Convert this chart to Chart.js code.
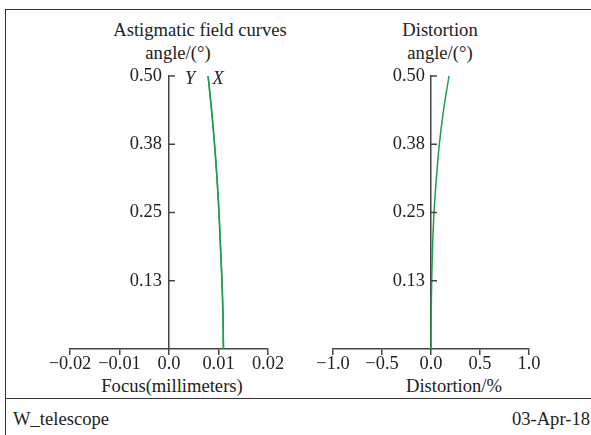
<!DOCTYPE html>
<html>
<head>
<meta charset="utf-8">
<script src="https://cdn.jsdelivr.net/npm/chart.js@4.4.0/dist/chart.umd.min.js"></script>
<style>
  body { margin: 0; width: 591px; height: 435px; background: #fff; position: relative; overflow: hidden;
         font-family: "Liberation Serif", serif; color: #222; }
  .t { position: absolute; font-size: 18.6px; line-height: 18px; white-space: nowrap; }
  .c { width: 300px; text-align: center; }
  #frame { position: absolute; left: 5px; top: 9px; width: 620px; height: 520px;
           border-left: 1.5px solid #333; border-top: 1.5px solid #333; }
  #sep { position: absolute; left: 5px; top: 398px; width: 620px; border-top: 1.5px solid #333; }
  canvas { position: absolute; top: 0; }
</style>
</head>
<body>
<div id="frame"></div>
<div id="sep"></div>

<div class="t c" style="left:50px; top:21px;">Astigmatic field curves</div>
<div class="t c" style="left:28px; top:44px;">angle/(°)</div>
<div class="t c" style="left:22px; top:377px;">Focus(millimeters)</div>

<div class="t c" style="left:290px; top:21px;">Distortion</div>
<div class="t c" style="left:290px; top:44px;">angle/(°)</div>
<div class="t c" style="left:304px; top:377px;">Distortion/%</div>

<div class="t" style="left:13px; top:410px;">W_telescope</div>
<div class="t" style="right:1px; top:410px;">03-Apr-18</div>

<canvas id="astig" width="300" height="400" style="left:0;"></canvas>
<canvas id="dist" width="291" height="400" style="left:300px;"></canvas>

<script>
// field angle (degrees) for each sample along the curves
const fieldAngle = [0, 0.0625, 0.125, 0.1875, 0.25, 0.3125, 0.375, 0.4375, 0.5];
// focus shift, millimeters (X = sagittal, Y = tangential)
const focusX = [0.0110, 0.0109, 0.0107, 0.0104, 0.0101, 0.0097, 0.0092, 0.0086, 0.0079];
const focusY = [0.0110, 0.0109, 0.0107, 0.0104, 0.0101, 0.0097, 0.0092, 0.0086, 0.0079];
// distortion, percent
const distortion = [0, 0.002, 0.007, 0.016, 0.031, 0.055, 0.085, 0.128, 0.184];

const angleTicks = [0.125, 0.25, 0.375, 0.5];
const angleTickLabels = ['0.13', '0.25', '0.38', '0.50'];
const focusTicks = [-0.02, -0.01, 0, 0.01, 0.02];
const focusTickLabels = ['\u22120.02', '\u22120.01', '0.0', '0.01', '0.02'];
const distTicks = [-1, -0.5, 0, 0.5, 1];
const distTickLabels = ['\u22121.0', '\u22120.5', '0.0', '0.5', '1.0'];

const FONT = '"Liberation Serif", serif';
const AXIS = '#444';
const GREEN = '#1f9e4f';

function toPoints(xs) {
    return xs.map((v, i) => ({ x: v, y: fieldAngle[i] }));
}

// angle axis: ticks point right of the axis, labels on the left
const angleAxisPlugin = {
    id: 'angleAxis',
    afterDraw(chart, args, opts) {
        const { ctx, scales: { x, y } } = chart;
        const x0 = x.getPixelForValue(0);
        ctx.save();
        ctx.strokeStyle = AXIS;
        ctx.lineWidth = 1.5;
        ctx.fillStyle = '#222';
        ctx.font = '18.4px ' + FONT;
        ctx.textAlign = 'right';
        ctx.textBaseline = 'middle';
        angleTicks.forEach((v, i) => {
            const py = y.getPixelForValue(v);
            ctx.beginPath();
            ctx.moveTo(x0, py);
            ctx.lineTo(x0 + 6, py);
            ctx.stroke();
            ctx.fillText(angleTickLabels[i], x0 - opts.gap, py);
        });
        // curve tags at the top end
        if (opts.tags) {
            const last = fieldAngle.length - 1;
            const py = y.getPixelForValue(fieldAngle[last]);
            ctx.font = 'italic 18.4px ' + FONT;
            ctx.textAlign = 'center';
            ctx.textBaseline = 'alphabetic';
            ctx.fillText('Y', x.getPixelForValue(focusY[last]) - 18, py + 8);
            ctx.fillText('X', x.getPixelForValue(focusX[last]) + 10, py + 8);
        }
        ctx.restore();
    }
};

function makeChart(id, datasets, xTicks, xLabels, padding, gap, tags) {
    return new Chart(document.getElementById(id), {
        type: 'scatter',
        data: { datasets },
        options: {
            responsive: false,
            animation: false,
            layout: { padding },
            plugins: {
                legend: { display: false },
                tooltip: { enabled: false },
                angleAxis: { gap, tags }
            },
            scales: {
                x: {
                    type: 'linear',
                    min: xTicks[0],
                    max: xTicks[xTicks.length - 1],
                    afterBuildTicks: s => { s.ticks = xTicks.map(v => ({ value: v })); },
                    afterFit: s => { s.height = 51; },
                    ticks: {
                        callback: (v, i) => xLabels[i],
                        font: { family: FONT, size: 18.4, lineHeight: 1 },
                        color: '#222',
                        padding: 0,
                        maxRotation: 0,
                        autoSkip: false
                    },
                    grid: { display: true, drawOnChartArea: false, drawTicks: true, tickLength: 6, color: AXIS, lineWidth: 1.5 },
                    border: { display: true, color: AXIS, width: 1.5 }
                },
                y: {
                    type: 'linear',
                    min: 0,
                    max: 0.5,
                    position: { x: 0 },
                    afterBuildTicks: s => { s.ticks = angleTicks.map(v => ({ value: v })); },
                    ticks: { display: false },
                    grid: { display: true, drawOnChartArea: false, drawTicks: false },
                    border: { display: true, color: AXIS, width: 1.5 }
                }
            }
        },
        plugins: [angleAxisPlugin]
    });
}

function lineSet(label, xs) {
    return {
        label,
        data: toPoints(xs),
        showLine: true,
        pointRadius: 0,
        borderColor: GREEN,
        borderWidth: 1.5,
        tension: 0.3
    };
}

makeChart('astig',
    [lineSet('Y', focusY), lineSet('X', focusX)],
    focusTicks, focusTickLabels,
    { left: 70, right: 32, top: 76, bottom: 0 }, 7, true);

makeChart('dist',
    [lineSet('Distortion', distortion)],
    distTicks, distTickLabels,
    { left: 33, right: 62, top: 76, bottom: 0 }, 6, false);
</script>
</body>
</html>
